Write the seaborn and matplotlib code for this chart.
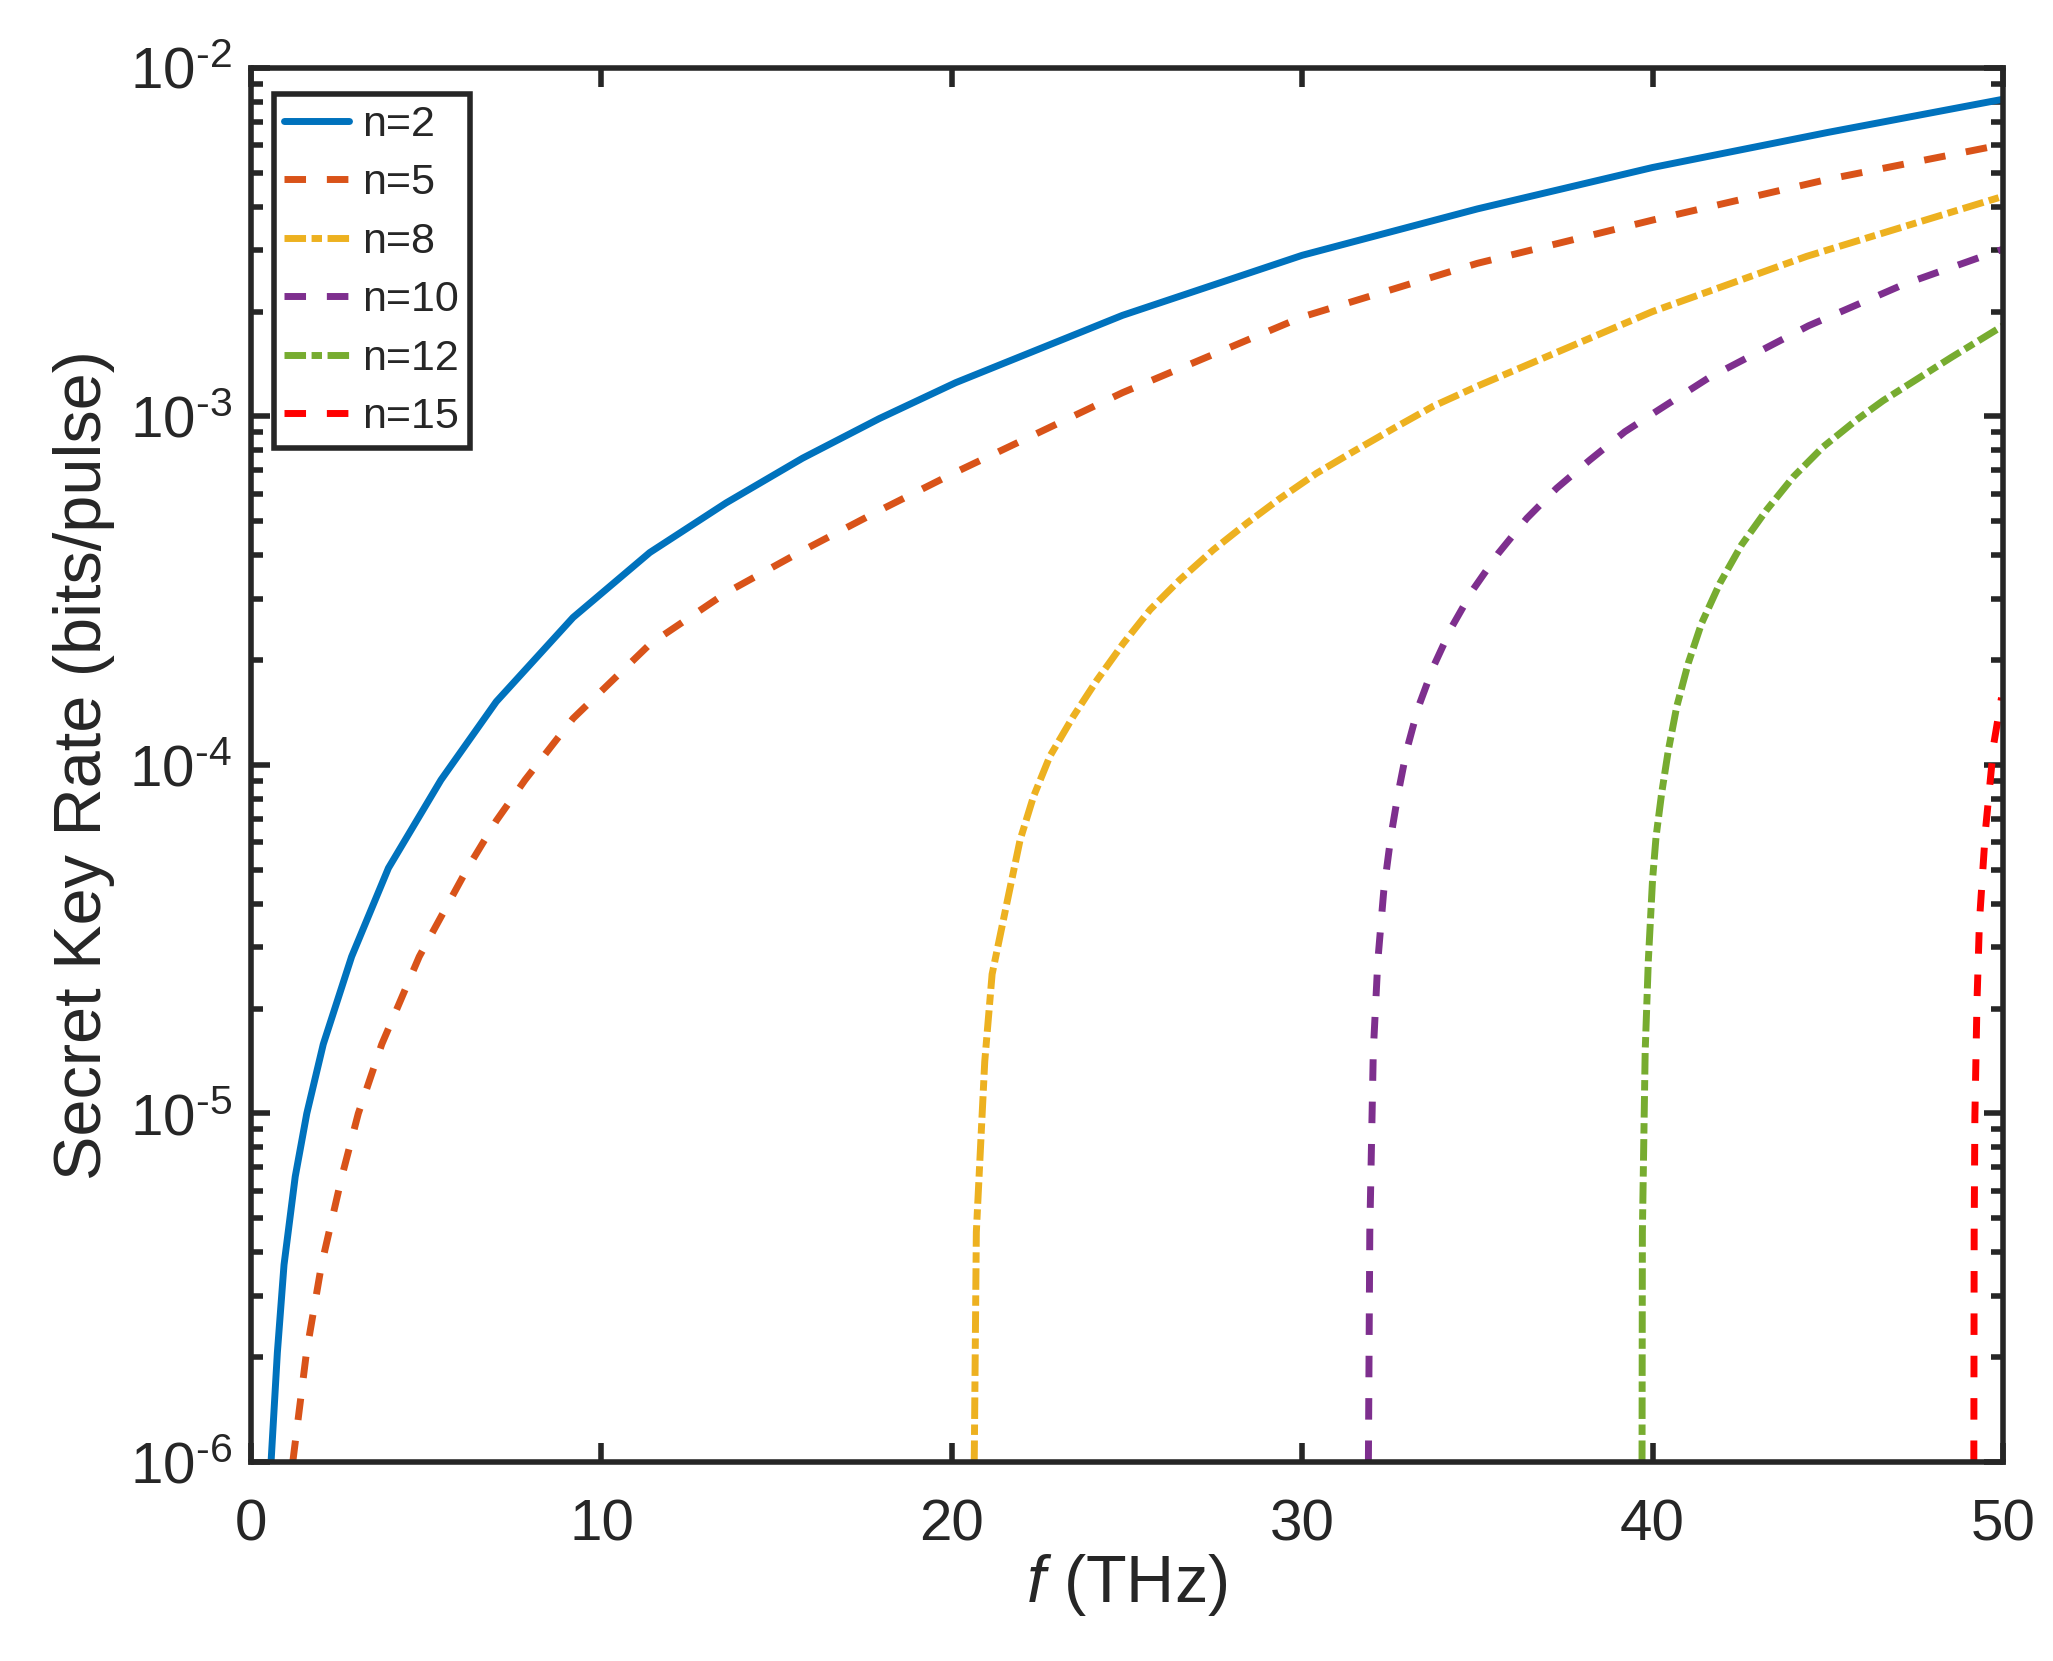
"""
Secret key rate vs. frequency for several n (log scale)
"""
import numpy as np
import pandas as pd
import matplotlib
matplotlib.use("Agg")
import matplotlib.pyplot as plt
import matplotlib.ticker as mticker
import seaborn as sns

OUT_PATH = "out.png"

# --- values (f in THz, rate in bits/pulse) ---
f_n2 = [0.57, 0.75, 0.94, 1.26, 1.59, 2.06, 2.87, 3.92, 5.42, 7.0, 9.19, 11.38,
        13.56, 15.74, 17.93, 20.11, 24.87, 30.0, 35.0, 40.0, 45.0, 50.0]
r_n2 = [1.0e-6, 2.06e-6, 3.68e-6, 6.59e-6, 1.0e-5, 1.58e-5, 2.82e-5, 5.06e-5,
        9.06e-5, 1.52e-4, 2.65e-4, 4.07e-4, 5.65e-4, 7.59e-4, 9.86e-4, 1.25e-3,
        1.95e-3, 2.90e-3, 3.94e-3, 5.18e-3, 6.53e-3, 8.13e-3]

f_n5 = [1.19, 1.58, 2.01, 2.59, 3.06, 3.73, 4.80, 6.18, 7.0, 7.82, 9.19, 11.38,
        13.56, 15.74, 17.93, 20.11, 24.87, 30.0, 35.0, 40.0, 45.0, 50.0]
r_n5 = [1.0e-6, 2.06e-6, 3.68e-6, 6.59e-6, 1.0e-5, 1.58e-5, 2.82e-5, 5.06e-5,
        6.92e-5, 9.06e-5, 1.36e-4, 2.22e-4, 3.12e-4, 4.12e-4, 5.37e-4, 6.92e-4,
        1.17e-3, 1.93e-3, 2.75e-3, 3.66e-3, 4.79e-3, 6.03e-3]

f_n8 = [20.64, 20.70, 20.94, 21.15, 21.61, 21.95, 22.33, 22.80, 23.47, 24.14,
        24.89, 25.66, 26.51, 27.46, 28.42, 29.37, 30.41, 31.46, 32.60, 33.74,
        35.07, 40.0, 44.4, 50.0]
r_n8 = [1.0e-6, 4.57e-6, 1.41e-5, 2.51e-5, 4.19e-5, 6.10e-5, 8.11e-5, 1.06e-4,
        1.38e-4, 1.75e-4, 2.23e-4, 2.79e-4, 3.40e-4, 4.14e-4, 4.94e-4, 5.82e-4,
        6.87e-4, 7.93e-4, 9.23e-4, 1.07e-3, 1.23e-3, 2.0e-3, 2.88e-3, 4.28e-3]

f_n10 = [31.89, 31.93, 32.03, 32.16, 32.33, 32.53, 32.74, 32.98, 33.31, 33.74,
         34.27, 34.88, 35.60, 36.41, 37.26, 38.21, 39.21, 40.21, 41.6, 44.45,
         47.2, 50.0]
r_n10 = [1.0e-6, 4.57e-6, 1.51e-5, 2.75e-5, 4.37e-5, 6.22e-5, 8.30e-5, 1.10e-4,
         1.46e-4, 1.91e-4, 2.49e-4, 3.19e-4, 4.05e-4, 5.10e-4, 6.22e-4, 7.50e-4,
         9.04e-4, 1.05e-3, 1.29e-3, 1.82e-3, 2.40e-3, 3.02e-3]

f_n12 = [39.70, 39.71, 39.79, 39.88, 40.0, 40.10, 40.26, 40.45, 40.69, 41.02,
         41.40, 41.92, 42.54, 43.26, 44.02, 44.87, 45.82, 46.58, 48.54, 50.0]
r_n12 = [1.0e-6, 4.57e-6, 1.51e-5, 2.75e-5, 4.68e-5, 6.22e-5, 8.30e-5, 1.10e-4,
         1.47e-4, 1.96e-4, 2.55e-4, 3.32e-4, 4.28e-4, 5.40e-4, 6.71e-4, 8.18e-4,
         9.77e-4, 1.11e-3, 1.48e-3, 1.82e-3]

f_n15 = [49.17, 49.18, 49.20, 49.26, 49.33, 49.50, 49.74, 49.96]
r_n15 = [1.0e-6, 4.57e-6, 9.77e-6, 2.09e-5, 3.55e-5, 6.46e-5, 1.15e-4, 1.56e-4]

LABELS = ["n=2", "n=5", "n=8", "n=10", "n=12", "n=15"]
COLORS = ["#0072BD", "#D95319", "#EDB120", "#7E2F8E", "#77AC30", "#FF0000"]
STYLES = ["-", (0, (3.1, 3.0)), (0, (3.1, 0.8, 1.5, 0.8)),
          (0, (3.1, 3.0)), (0, (3.1, 0.8, 1.5, 0.8)), (0, (3.1, 3.0))]

sns.set_theme(style="ticks")
plt.rcParams["font.family"] = ["Liberation Sans", "DejaVu Sans"]
plt.rcParams["mathtext.fontset"] = "custom"
plt.rcParams["mathtext.rm"] = "Liberation Sans"
plt.rcParams["mathtext.it"] = "Liberation Sans:italic"

series = [(f_n2, r_n2), (f_n5, r_n5), (f_n8, r_n8),
          (f_n10, r_n10), (f_n12, r_n12), (f_n15, r_n15)]
df = pd.concat(
    [pd.DataFrame({"f": f, "rate": r, "n": lab}) for (f, r), lab in zip(series, LABELS)],
    ignore_index=True,
)

fig = plt.figure(figsize=(20.53, 16.61), dpi=100)
ax = fig.add_axes([0.1223, 0.1198, 0.8533, 0.8393])

for lab, col, ls in zip(LABELS, COLORS, STYLES):
    sub = df[df["n"] == lab]
    sns.lineplot(data=sub, x="f", y="rate", ax=ax, color=col, linestyle=ls,
                 linewidth=5, label=lab, estimator=None, sort=False)

ax.set_yscale("log")
ax.set_xlim(0, 50)
ax.set_ylim(1e-6, 1e-2)
ax.set_xticks([0, 10, 20, 30, 40, 50])
ax.yaxis.set_major_locator(mticker.LogLocator(base=10, numticks=10))
ax.yaxis.set_major_formatter(
    mticker.FuncFormatter(lambda v, pos: "$10^{\\text{-}%d}$" % round(-np.log10(v))))
ax.yaxis.set_minor_locator(mticker.LogLocator(base=10, subs=np.arange(2, 10), numticks=10))
ax.yaxis.set_minor_formatter(mticker.NullFormatter())

ink = "#262626"
for sp in ax.spines.values():
    sp.set_visible(True)
    sp.set_linewidth(4)
    sp.set_color(ink)
ax.tick_params(axis="both", which="major", direction="in", length=14, width=4,
               top=True, right=True, labelsize=42, colors=ink, labelcolor=ink)
ax.tick_params(axis="y", which="minor", direction="in", length=8.5, width=4,
               left=True, right=True, colors=ink)
ax.tick_params(axis="x", which="major", pad=26)
ax.tick_params(axis="y", which="major", pad=14)

ax.set_xlabel("$f$ (THz)", fontsize=48, color=ink, labelpad=0)
ax.set_ylabel("Secret Key Rate (bits/pulse)", fontsize=48, color=ink, labelpad=10)

leg = ax.legend(loc="upper left", bbox_to_anchor=(0.0129, 0.9813), borderaxespad=0,
                fontsize=31, frameon=True, fancybox=False, framealpha=1,
                edgecolor=ink, handlelength=1.5, handletextpad=0.3,
                labelspacing=0.43, borderpad=0.25)
leg.get_frame().set_linewidth(4)

fig.savefig(OUT_PATH, dpi=100)
